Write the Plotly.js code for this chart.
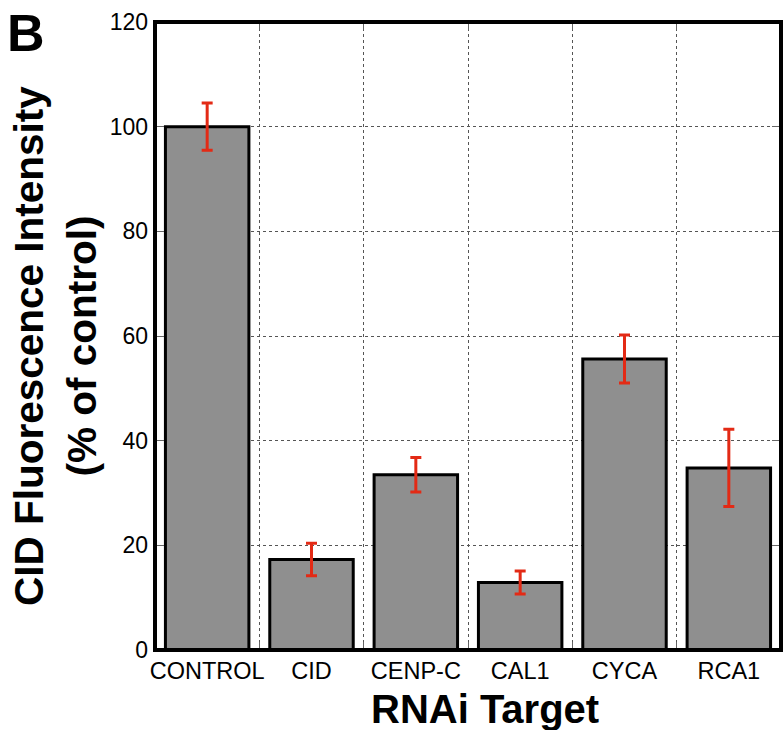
<!DOCTYPE html>
<html>
<head>
<meta charset="utf-8">
<script src="https://cdn.plot.ly/plotly-3.0.1.min.js"></script>
<style>html,body{margin:0;padding:0;background:#fff;}#chart{width:783px;height:730px;}</style>
</head>
<body>
<div id="chart"></div>
<script>
const categories = ["CONTROL", "CID", "CENP-C", "CAL1", "CYCA", "RCA1"];
const values = [100, 17.3, 33.5, 12.9, 55.6, 34.8];
const errors = [4.5, 3.1, 3.3, 2.2, 4.6, 7.4];
const yTicks = [0, 20, 40, 60, 80, 100, 120];

const FONT = "Liberation Sans, Arial, Helvetica, sans-serif";

const trace = {
  type: "bar",
  x: categories,
  y: values,
  marker: { color: "#8f8f8f", line: { color: "#000", width: 3 } },
  error_y: { type: "data", array: errors, visible: true, color: "#e32a15", thickness: 3, width: 5.5 },
  hoverinfo: "skip"
};

const layout = {
  width: 783, height: 730,
  margin: { l: 155, r: 2, t: 22, b: 80, pad: 0 },
  paper_bgcolor: "#fff", plot_bgcolor: "#fff",
  showlegend: false,
  bargap: 0.2,
  font: { family: FONT, color: "#000" },
  xaxis: {
    type: "category",
    tickson: "boundaries",
    tickangle: 0,
    ticks: "inside", ticklen: 8, tickcolor: "#666", tickwidth: 1,
    mirror: "all",
    showgrid: true, gridcolor: "#555", gridwidth: 1, griddash: "dot",
    showline: false, zeroline: false,
    tickfont: { family: FONT, size: 23.5, color: "#000" },
    ticklabelstandoff: 4,
    range: [-0.5, 5.5]
  },
  yaxis: {
    range: [0, 120],
    tickvals: yTicks,
    ticktext: yTicks.map(String),
    ticks: "inside", ticklen: 9, tickcolor: "#666", tickwidth: 1,
    mirror: "all",
    showgrid: true, gridcolor: "#555", gridwidth: 1, griddash: "dot",
    showline: false, zeroline: false,
    tickfont: { family: FONT, size: 23, color: "#000" },
    ticklabelstandoff: 6
  },
  shapes: [{
    type: "rect", xref: "paper", yref: "paper", x0: 0, x1: 1, y0: 0, y1: 1,
    line: { color: "#000", width: 4 }, layer: "above"
  }],
  annotations: [
    { text: "B", xref: "paper", yref: "paper", x: -0.206, y: 0.982, xanchor: "center", yanchor: "middle",
      showarrow: false, font: { family: FONT, size: 52, weight: "bold", color: "#000" } },
    { text: "RNAi Target", xref: "paper", yref: "paper", x: 0.527, y: 0, yshift: -59, xanchor: "center", yanchor: "middle",
      showarrow: false, font: { family: FONT, size: 40, weight: "bold", color: "#000" } },
    { text: "CID Fluorescence Intensity<br>(% of control)", xref: "paper", yref: "paper", x: 0, xshift: -100, y: 0.484,
      xanchor: "center", yanchor: "middle", textangle: -90, showarrow: false,
      font: { family: FONT, size: 40.5, weight: "bold", color: "#000" } }
  ]
};

Plotly.newPlot("chart", [trace], layout, { staticPlot: true, displayModeBar: false });
</script>
</body>
</html>
